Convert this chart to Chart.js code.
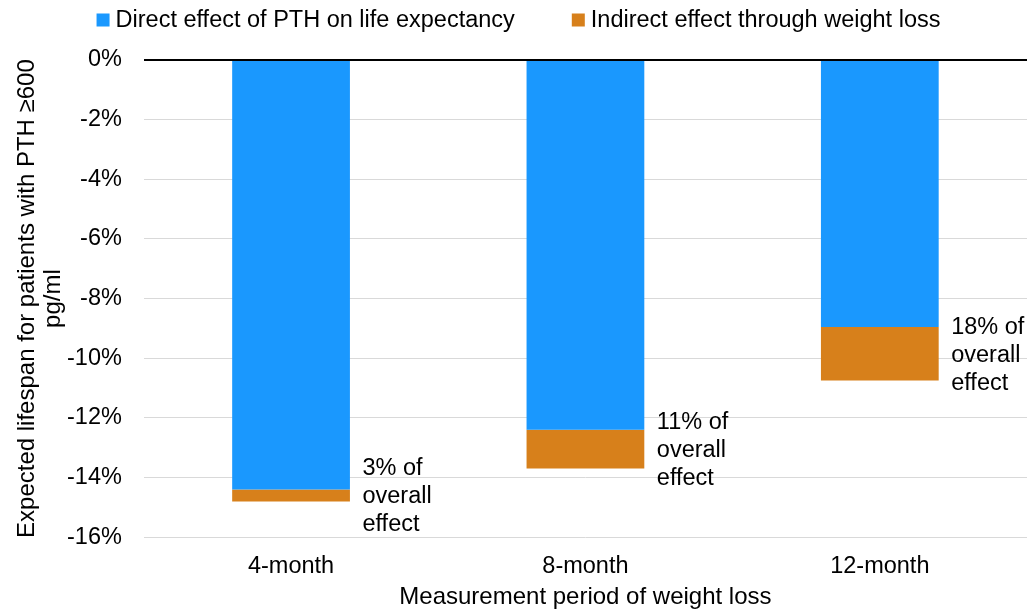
<!DOCTYPE html>
<html>
<head>
<meta charset="utf-8">
<script src="https://cdn.jsdelivr.net/npm/chart.js@4.4.1/dist/chart.umd.min.js"></script>
<style>
  html, body { margin: 0; padding: 0; background: #ffffff; }
  #wrap { width: 1029px; height: 611px; position: relative; }
</style>
</head>
<body>
<div id="wrap"><canvas id="c"></canvas></div>
<script>
// ---- data ----
const categories = ['4-month', '8-month', '12-month'];
const seriesNames = ['Direct effect of PTH on life expectancy', 'Indirect effect through weight loss'];
const directEffect = [-14.4, -12.4, -8.95];
const indirectEffect = [-0.4, -1.3, -1.8];
const shareOfOverall = ['3%', '11%', '18%'];
const yMin = -16, yMax = 0, yStep = 2;
const xTitle = 'Measurement period of weight loss';
const yTitle = ['Expected lifespan for patients with PTH \u2265600', 'pg/ml'];

// ---- styles ----
const FONT = '"Liberation Sans", Arial, sans-serif';
const FS = 23.5;
const BLUE = '#1A98FE';
const ORANGE = '#D7801B';
const TEXT = '#000000';
const CLEAR = 'rgba(0,0,0,0)';

const shareLabelPlugin = {
  id: 'shareLabels',
  afterDatasetsDraw(chart) {
    const ctx = chart.ctx;
    const meta = chart.getDatasetMeta(1);
    ctx.save();
    ctx.font = FS + 'px ' + FONT;
    ctx.fillStyle = TEXT;
    ctx.textAlign = 'left';
    ctx.textBaseline = 'middle';
    meta.data.forEach((bar, i) => {
      const lines = [shareOfOverall[i] + ' of', 'overall', 'effect'];
      const x = bar.x + bar.width / 2 + 12.5;
      const yc = (bar.y + bar.base) / 2 + 1.5;
      const lh = 28;
      lines.forEach((t, k) => ctx.fillText(t, x, yc + (k - 1) * lh));
    });
    ctx.restore();
  }
};

const legendPlugin = {
  id: 'customLegend',
  afterDraw(chart) {
    const ctx = chart.ctx;
    ctx.save();
    ctx.font = FS + 'px ' + FONT;
    ctx.textBaseline = 'middle';
    ctx.textAlign = 'left';
    const box = 13, gapText = 6, gapItem = 57;
    const colors = chart.data.datasets.map(d => d.backgroundColor);
    const widths = seriesNames.map(n => ctx.measureText(n).width);
    let total = 0;
    widths.forEach((w, i) => { total += box + gapText + w + (i ? gapItem : 0); });
    let x = 518.5 - total / 2;
    const y = 20;
    seriesNames.forEach((n, i) => {
      ctx.fillStyle = colors[i];
      ctx.fillRect(x, y - box / 2, box, box);
      ctx.fillStyle = TEXT;
      ctx.fillText(n, x + box + gapText, y + 1);
      x += box + gapText + widths[i] + gapItem;
    });
    ctx.restore();
  }
};

new Chart(document.getElementById('c'), {
  type: 'bar',
  data: {
    labels: categories,
    datasets: [
      { label: seriesNames[0], data: directEffect, backgroundColor: BLUE, borderWidth: 0 },
      { label: seriesNames[1], data: indirectEffect, backgroundColor: ORANGE, borderWidth: 0 }
    ]
  },
  options: {
    responsive: true,
    maintainAspectRatio: false,
    animation: false,
    events: [],
    layout: { padding: { top: 60, right: 2, left: 0, bottom: 0 } },
    plugins: {
      legend: { display: false },
      tooltip: { enabled: false }
    },
    datasets: { bar: { categoryPercentage: 1.0, barPercentage: 0.4 } },
    scales: {
      x: {
        stacked: true,
        grid: { display: false, drawTicks: true, tickLength: 15, tickColor: CLEAR },
        border: { display: false },
        ticks: { color: TEXT, font: { family: FONT, size: FS }, padding: 0, maxRotation: 0 },
        title: { display: true, text: xTitle, color: TEXT, font: { family: FONT, size: 24, lineHeight: 1.15 }, padding: { top: 3, bottom: 0 } }
      },
      y: {
        stacked: true,
        min: yMin, max: yMax,
        grid: {
          drawTicks: true,
          tickLength: 22,
          tickColor: CLEAR,
          color: (c) => c.tick && c.tick.value === 0 ? '#000000' : '#D9D9D9',
          lineWidth: (c) => c.tick && c.tick.value === 0 ? 2 : 1
        },
        border: { display: false },
        ticks: {
          stepSize: yStep,
          color: TEXT,
          font: { family: FONT, size: FS },
          padding: 0,
          callback: (v) => v + '%'
        },
        title: { display: true, text: yTitle, color: TEXT, font: { family: FONT, size: 24, lineHeight: '26px' }, padding: { top: 14, bottom: 1 } }
      }
    }
  },
  plugins: [shareLabelPlugin, legendPlugin]
});
</script>
</body>
</html>
